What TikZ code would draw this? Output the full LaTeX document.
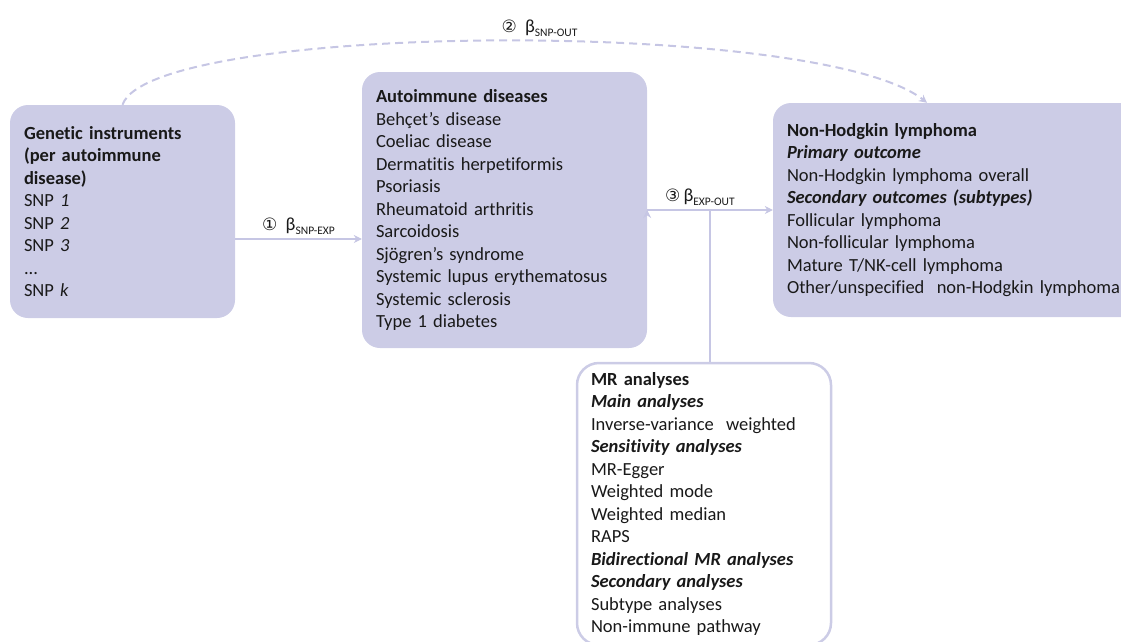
\documentclass[tikz,border=0pt]{standalone}
\usepackage{fontspec}
\setmainfont{Carlito}[Ligatures=NoCommon]
\newfontfamily\circfont{DejaVu Sans}
\usetikzlibrary{arrows.meta}
\definecolor{lilac}{RGB}{204,204,230}
\definecolor{lilacline}{RGB}{198,198,228}
\definecolor{inktext}{RGB}{25,25,25}
\newcommand{\stepno}[1]{{\circfont\fontsize{17}{17}\selectfont #1}}
\newcommand{\betasub}[1]{β\raisebox{-0.45ex}{\fontsize{11.5}{10}\selectfont #1}}
\newcommand{\bi}[1]{\textbf{\textit{#1}}}

\begin{document}
\begin{tikzpicture}[x=1pt, y=-1pt,
  every node/.style={text=inktext},
  box/.style={rounded corners=18pt, align=left, inner xsep=14pt, inner ysep=0pt,
    font=\fontsize{18.5}{22.5}\selectfont},
  filledbox/.style={box, fill=lilac},
  openbox/.style={box, draw=lilac, line width=2.5pt, fill=white, rounded corners=22pt},
  conn/.style={draw=lilacline, line width=2pt, -{Stealth[length=8pt,width=8pt]}},
  descr/.style={font=\fontsize{18.5}{20}\selectfont, inner sep=3pt}
]
  \useasboundingbox (0,0) rectangle (1121,641);

  \node[filledbox, minimum width=225, minimum height=213, text width=197] (gen) at (122.5,211.5)
    {\textbf{Genetic instruments}\\\textbf{(per autoimmune}\\\textbf{disease)}\\
     SNP \textit{1}\\SNP \textit{2}\\SNP \textit{3}\\...\\SNP \textit{k}};
  \node[filledbox, minimum width=285, minimum height=276, text width=257] (aid) at (504.5,210)
    {\textbf{Autoimmune diseases}\\Behçet's disease\\Coeliac disease\\Dermatitis herpetiformis\\
     Psoriasis\\Rheumatoid arthritis\\Sarcoidosis\\Sjögren's syndrome\\
     Systemic lupus erythematosus\\Systemic sclerosis\\Type 1 diabetes};
  \node[filledbox, minimum width=378, minimum height=214, text width=350] (nhl) at (962,210)
    {\textbf{Non-Hodgkin lymphoma}\\\bi{Primary outcome}\\Non-Hodgkin lymphoma overall\\
     \bi{Secondary outcomes (subtypes)}\\Follicular lymphoma\\Non-follicular lymphoma\\
     Mature T/NK-cell lymphoma\\Other/unspecified~ non-Hodgkin lymphoma};
  \node[openbox, minimum width=254, minimum height=282, text width=226] (mr) at (704,504)
    {\textbf{MR analyses}\\\bi{Main analyses}\\Inverse-variance~ weighted\\
     \bi{Sensitivity analyses}\\MR-Egger\\Weighted mode\\Weighted median\\RAPS\\
     \bi{Bidirectional MR analyses}\\\bi{Secondary analyses}\\Subtype analyses\\
     Non-immune pathway};

  \coordinate (a1) at (300,239);
  \coordinate (split) at (710,210);

  \path[conn]
    (gen.east |- a1) edge node[descr, above]{\stepno{①}\ \ \betasub{SNP-EXP}} (aid.west |- a1)
    (aid.east |- split) edge node[descr, above, pos=0.42]{\stepno{③}\,\betasub{EXP-OUT}} (nhl.west |- split)
  ;
  \draw[draw=lilacline, line width=2pt] (split) -- (split |- mr.north);
  \draw[conn, dash pattern=on 8pt off 5pt]
    (gen.north) .. controls +(28,-83) and +(-107,-85) .. (nhl.north -| 927,0)
    node[descr, above, pos=0.54]{\stepno{②}\ \ \betasub{SNP-OUT}};
\end{tikzpicture}
\end{document}
